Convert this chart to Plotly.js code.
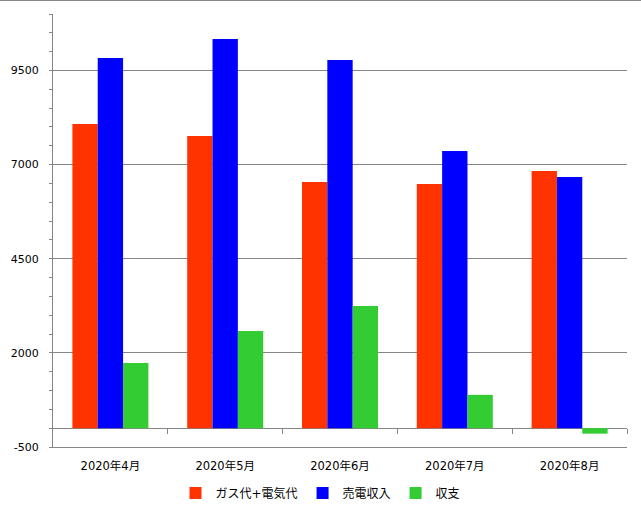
<!DOCTYPE html>
<html><head><meta charset="utf-8">
<script src="https://cdn.plot.ly/plotly-3.0.1.min.js"></script>
<style>html,body{margin:0;padding:0;background:#fff;}#chart{width:641px;height:511px;border-top:1px solid #888;}</style>
</head><body><div id="chart"></div>
<script>
const categories = ["2020年4月","2020年5月","2020年6月","2020年7月","2020年8月"];
const seriesNames = ["ガス代+電気代","売電収入","収支"];
const gasElec = [8080, 7761, 6539, 6486, 6831];
const sales = [9833, 10337, 9780, 7363, 6672];
const balance = [1733, 2582, 3246, 885, -146];
const colors = ["#FF3300","#0000FF","#33CC33"];
const yTickVals = [-500, 2000, 4500, 7000, 9500];
const yTickText = ["-500", "2000", "4500", "7000", "9500"];
const boundaryTicks = [0.5, 1.5, 2.5, 3.5, 4.5];
const yMin = -500, yMax = 11000;

const font = {family: "DejaVu Sans, 'Noto Sans CJK JP', sans-serif", size: 11, color: "#000"};
const data = [gasElec, sales, balance].map((v, i) => ({
  type: "bar", x: categories, y: v, name: seriesNames[i],
  marker: {color: colors[i], line: {width: 0}}, hoverinfo: "none"
}));
data.push({type: "scatter", x: [boundaryTicks[0]], y: [0], xaxis: "x2", yaxis: "y",
  mode: "markers", marker: {opacity: 0}, showlegend: false, hoverinfo: "none"});

const layout = {
  width: 641, height: 511,
  margin: {l: 53, r: 14, t: 13, b: 65, autoexpand: false},
  paper_bgcolor: "#fff", plot_bgcolor: "#fff",
  font: font,
  bargap: 0.338, bargroupgap: 0,
  showlegend: true,
  legend: {orientation: "h", x: 0.5, xref: "container", xanchor: "center",
    y: 1 - 492 / 511, yref: "container", yanchor: "middle",
    font: {family: font.family, size: 12, color: "#000"}, itemwidth: 30, tracegroupgap: 0},
  xaxis: {type: "category", showline: true, linecolor: "#868686", linewidth: 1,
    ticks: "", showgrid: false, zeroline: false, ticklabelstandoff: 8,
    tickfont: {family: font.family, size: 11.5}, mirror: false},
  xaxis2: {overlaying: "x", anchor: "free", position: (0 - yMin) / (yMax - yMin),
    range: [-0.5, 4.5], tickvals: boundaryTicks, ticks: "outside", ticklen: 5,
    tickcolor: "#868686", showticklabels: false, showgrid: false, zeroline: false, showline: false},
  yaxis: {range: [yMin, yMax], tickvals: yTickVals, ticktext: yTickText,
    showgrid: true, gridcolor: "#868686",
    gridwidth: 1, zeroline: true, zerolinecolor: "#868686", zerolinewidth: 1,
    showline: true, linecolor: "#868686", linewidth: 1,
    ticks: "outside", ticklen: 3, tickcolor: "#868686", ticklabelstandoff: 8,
    minor: {dtick: 500, tick0: yMin, ticks: "outside", ticklen: 3, tickcolor: "#868686", showgrid: false},
    tickfont: {family: font.family, size: 11}}
};
Plotly.newPlot("chart", data, layout, {displayModeBar: false, staticPlot: true});
</script></body></html>
